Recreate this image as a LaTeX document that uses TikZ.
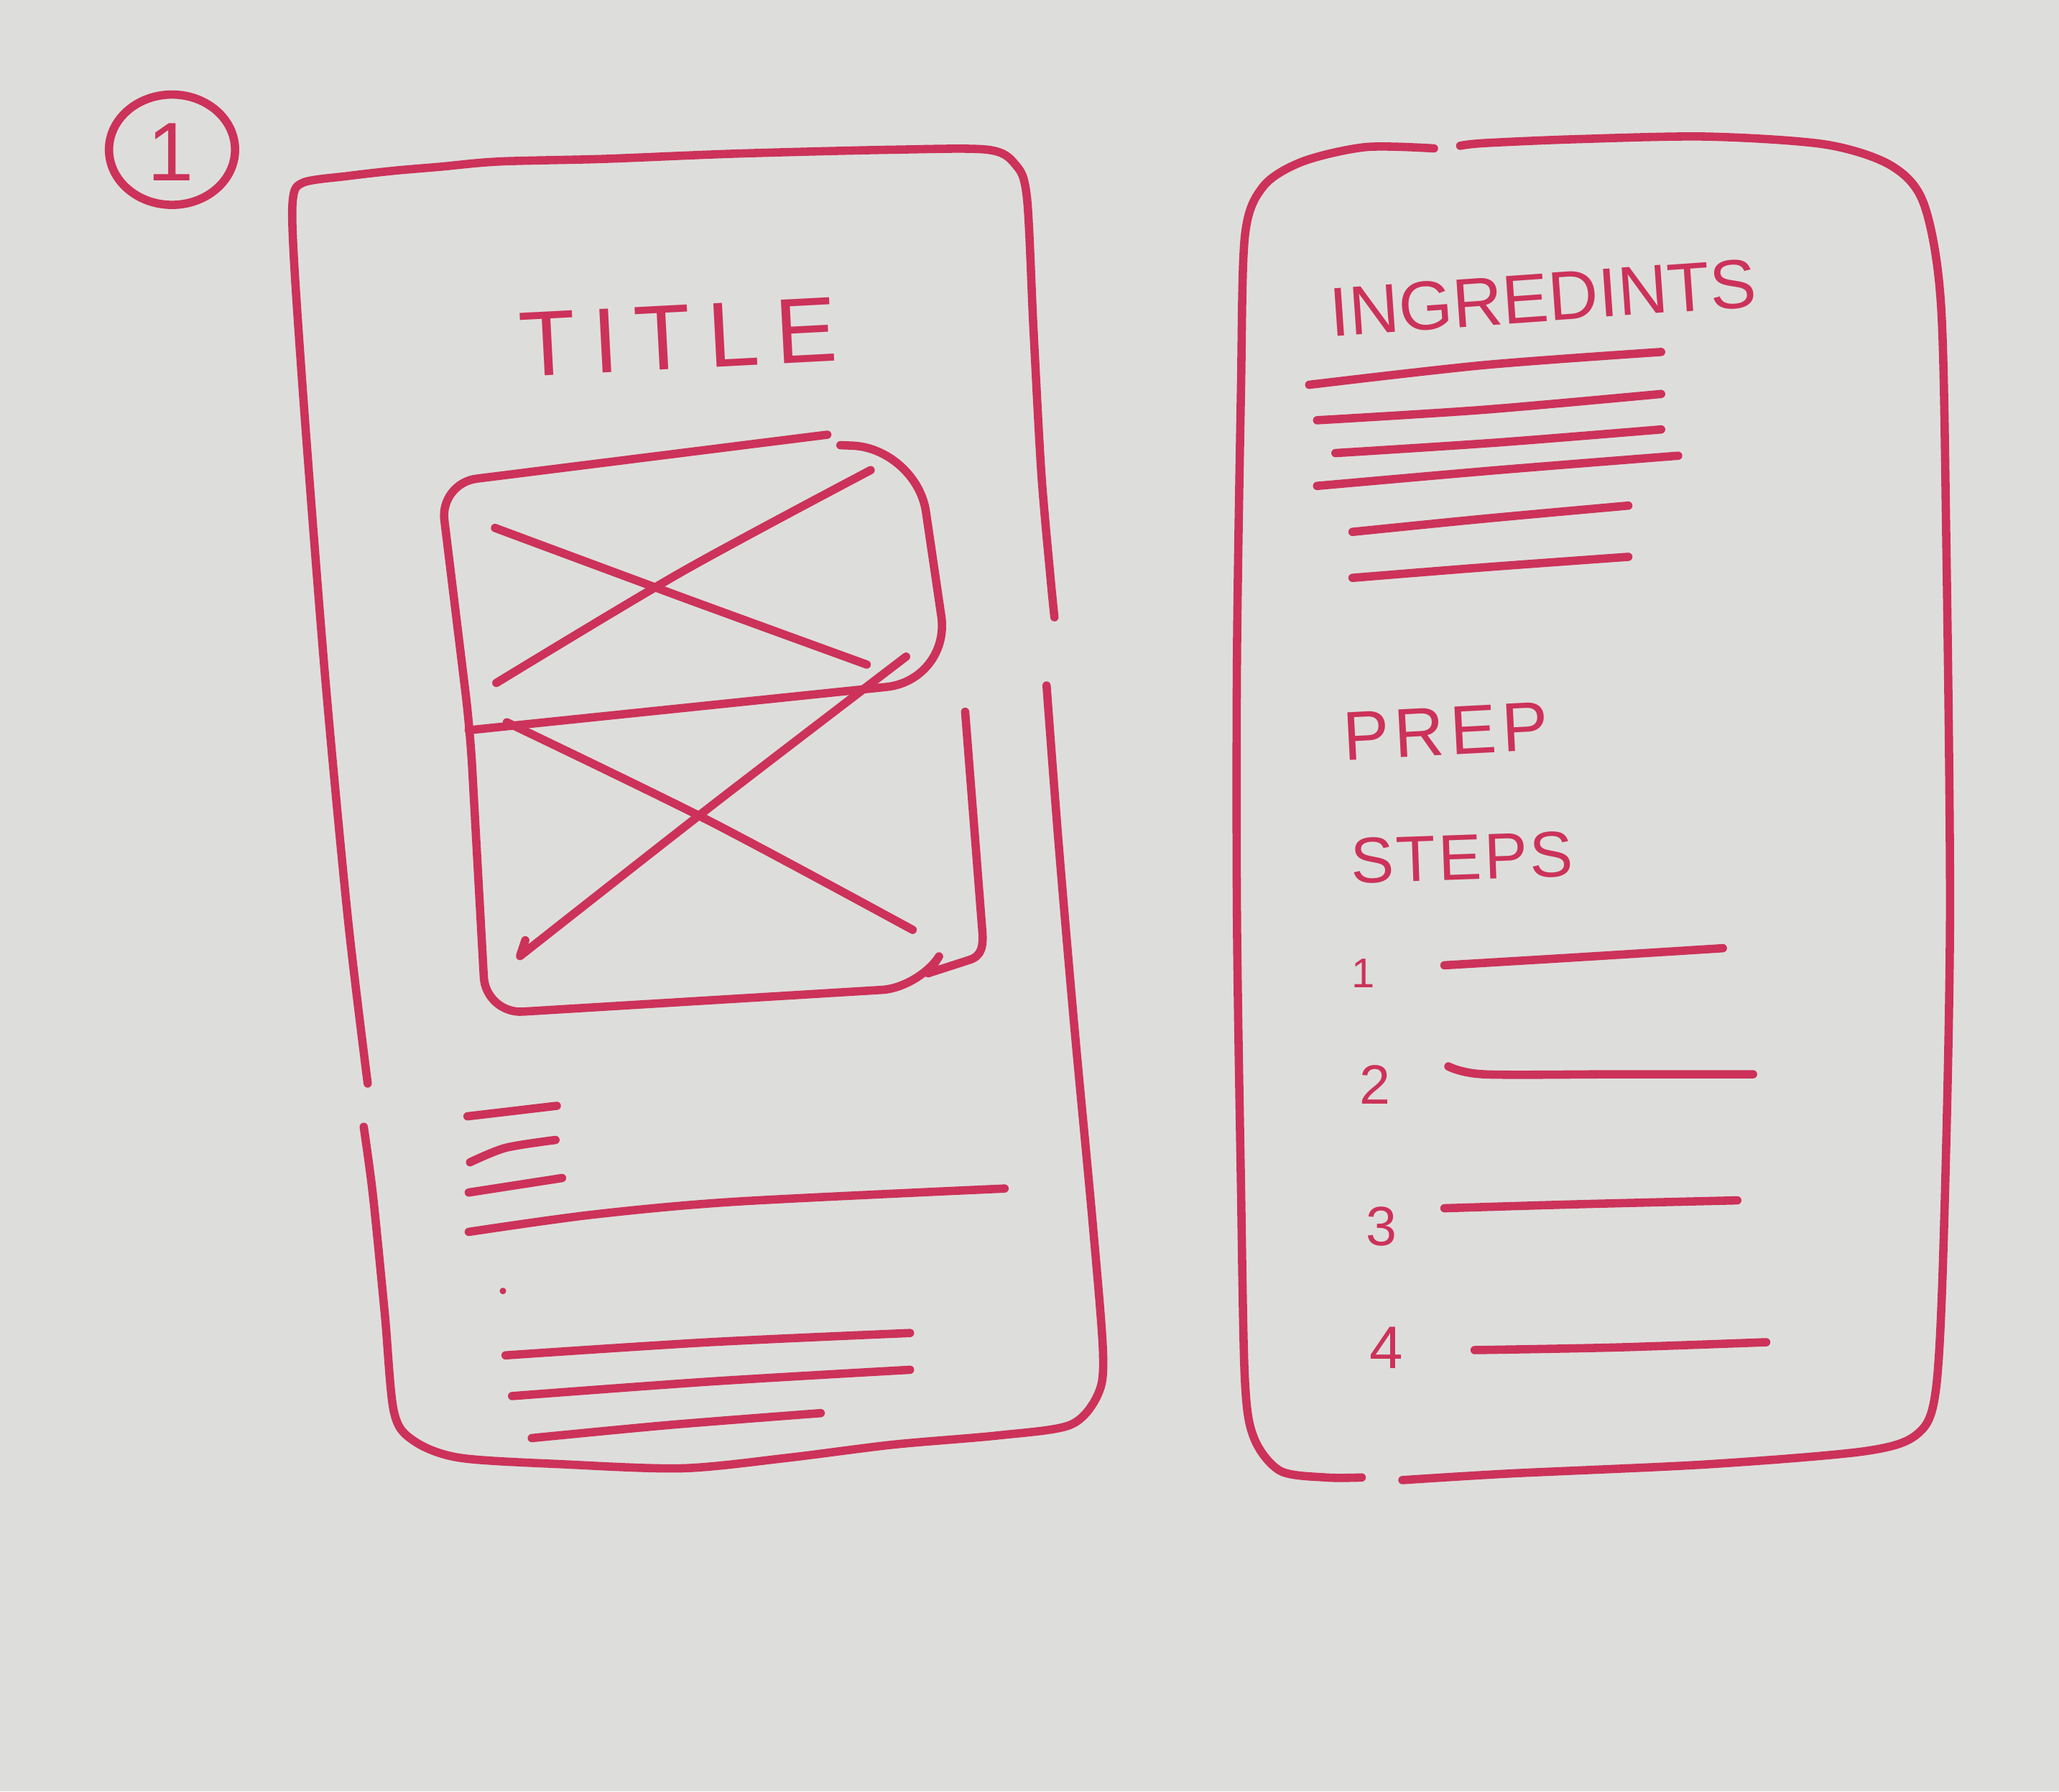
\documentclass[tikz,border=0pt]{standalone}
\usepackage{fontspec}
\setmainfont{Liberation Sans}
\definecolor{paper}{RGB}{221,222,219}
\definecolor{ink}{RGB}{204,50,90}
\begin{document}
\begin{tikzpicture}[x=0.01cm,y=-0.01cm,
  pen/.style={draw=ink,line width=1.8pt,line cap=round,line join=round},
  hand/.style={text=ink,inner sep=0pt,anchor=west},
  sm/.style={smooth,tension=0.5}]
% sheet of paper
\fill[paper] (0,0) rectangle (1568,1364);
\useasboundingbox (0,0) rectangle (1568,1364);

% page number in a circle
\draw[pen] (131,114) ellipse [x radius=48, y radius=42];
\node[hand,anchor=center,font=\fontsize{18}{21}\selectfont] (num) at (130,116) {1};

% ---------- left screen ----------
\draw[pen] plot[sm] coordinates {(280,825) (265,700) (248,520) (233,330) (224,200) (223,152) (231,139) (265,134) (300,130) (335,127) (380,123) (460,121) (560,117) (680,114) (752,114) (773,125) (782,150) (787,250) (793,360) (800,440) (803,470)};
\draw[pen] plot[sm] coordinates {(797,522) (806,640) (818,780) (832,930) (840,1030) (836,1062) (815,1085) (760,1093) (680,1100) (600,1110) (520,1118) (430,1115) (350,1110) (315,1097) (300,1075) (293,1000) (284,910) (277,858)};

\node[hand,rotate=3,font=\fontsize{20}{24}\selectfont\addfontfeature{LetterSpace=18}] (title) at (395,263) {TITLE};

% two image placeholders
\draw[pen,rounded corners=8] (630,331) -- (335,368) -- (358,556) -- (370,772) -- (700,752) -- (707,741);
\draw[pen] (707,741) -- (738,731) .. controls (748,728) and (749,720) .. (748,708) -- (735,542);
\draw[pen,rounded corners=14] (640,339) -- (698,341) -- (724,518) -- (357,556);
\draw[pen] plot[sm] coordinates {(377,402) (520,455) (660,506)};
\draw[pen] plot[sm] coordinates {(663,358) (520,435) (378,520)};
\draw[pen] plot[sm] coordinates {(386,550) (540,625) (695,708)};
\draw[pen] plot[sm] coordinates {(690,500) (540,615) (396,728)} -- (400,716);

% text lines
\draw[pen] (356,850) -- (424,842);
\draw[pen] plot[sm] coordinates {(358,885) (385,874) (423,868)};
\draw[pen] (357,908) -- (428,897);
\draw[pen] plot[sm] coordinates {(357,938) (450,925) (560,915) (765,905)};
\fill[ink] (383,983) circle (2.5);
\draw[pen] plot[sm] coordinates {(385,1032) (540,1022) (693,1015)};
\draw[pen] plot[sm] coordinates {(390,1063) (540,1052) (693,1043)};
\draw[pen] plot[sm] coordinates {(405,1095) (510,1085) (625,1076)};

% ---------- right screen ----------
\draw[pen] plot[sm] coordinates {(1092,113) (1040,112) (992,123) (962,142) (948,180) (945,300) (942,500) (942,700) (945,900) (948,1050) (955,1095) (975,1120) (1010,1125) (1037,1125)};
\draw[pen] plot[sm] coordinates {(1068,1127) (1150,1122) (1300,1115) (1420,1105) (1460,1092) (1474,1060) (1480,950) (1485,700) (1482,400) (1478,230) (1465,155) (1440,126) (1390,110) (1300,104) (1200,106) (1130,109) (1112,111)};

\node[hand,rotate=4,font=\fontsize{15}{18}\selectfont] (ingr) at (1012,238) {INGREDINTS};
\draw[pen] plot[sm] coordinates {(997,293) (1130,278) (1265,268)};
\draw[pen] plot[sm] coordinates {(1003,320) (1130,312) (1265,300)};
\draw[pen] plot[sm] coordinates {(1017,345) (1140,337) (1265,327)};
\draw[pen] plot[sm] coordinates {(1003,370) (1140,358) (1278,347)};
\draw[pen] plot[sm] coordinates {(1030,405) (1130,395) (1240,385)};
\draw[pen] plot[sm] coordinates {(1030,440) (1130,432) (1240,424)};

\node[hand,rotate=3,font=\fontsize{15}{18}\selectfont\addfontfeature{LetterSpace=8}] (prep) at (1022,561) {PREP};
\node[hand,rotate=2,font=\fontsize{14}{17}\selectfont\addfontfeature{LetterSpace=4}] (steps) at (1028,656) {STEPS};

\node[hand,anchor=center,font=\fontsize{9}{11}\selectfont] (s1) at (1038,741) {1};
\node[hand,anchor=center,font=\fontsize{12}{14}\selectfont] (s2) at (1047,826) {2};
\node[hand,anchor=center,font=\fontsize{12}{14}\selectfont] (s3) at (1052,934) {3};
\node[hand,anchor=center,font=\fontsize{13}{15}\selectfont] (s4) at (1056,1026) {4};
\draw[pen] plot[sm] coordinates {(1100,735) (1200,729) (1312,722)};
\draw[pen] plot[sm] coordinates {(1103,812) (1130,818) (1230,818) (1335,818)};
\draw[pen] plot[sm] coordinates {(1100,920) (1200,917) (1323,914)};
\draw[pen] plot[sm] coordinates {(1123,1028) (1230,1026) (1345,1022)};
\end{tikzpicture}
\end{document}
